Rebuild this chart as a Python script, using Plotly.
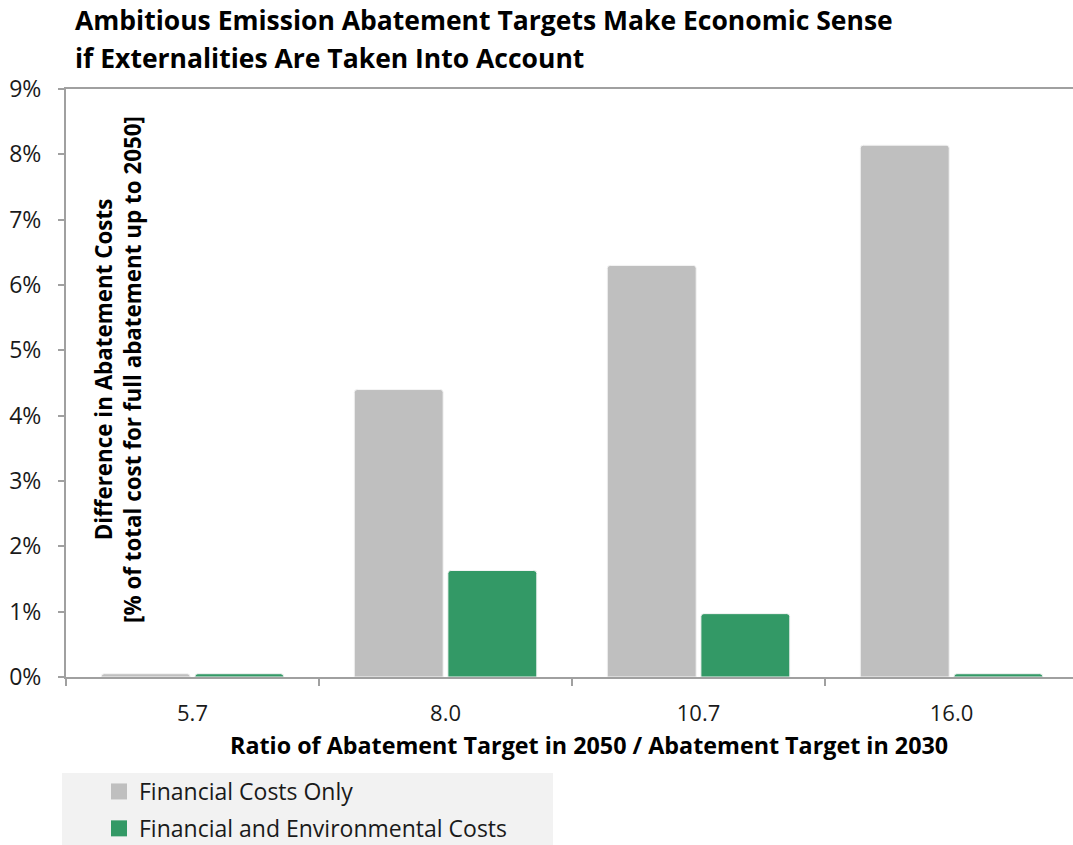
import plotly.graph_objects as go

# Abatement target ratio (2050 / 2030)
ratios = ["5.7", "8.0", "10.7", "16.0"]
# Difference in abatement costs, % of total cost for full abatement up to 2050
financial_only = [0.05, 4.40, 6.30, 8.14]
financial_env = [0.05, 1.63, 0.97, 0.05]
y_ticks = [0, 1, 2, 3, 4, 5, 6, 7, 8, 9]
y_tick_labels = ["0%", "1%", "2%", "3%", "4%", "5%", "6%", "7%", "8%", "9%"]

FONT = "Open Sans"
GRAY = "#bfbfbf"
GREEN = "#339966"
W, H = 1073, 845
L, T, B = 66, 89, 168
PLOT_H = H - T - B


def px_y(py):
    """Pixel row -> paper y for the plot area."""
    return (H - B - py) / PLOT_H


def px_x(px):
    return (px - L) / (W - L)


fig = go.Figure()
fig.add_trace(go.Bar(
    x=ratios, y=financial_only, name="Financial Costs Only",
    marker=dict(color=GRAY, line=dict(color="#f4f4f4", width=1), cornerradius=3),
    showlegend=False,
))
fig.add_trace(go.Bar(
    x=ratios, y=financial_env, name="Financial and Environmental Costs",
    marker=dict(color=GREEN, line=dict(color="#f4f4f4", width=1), cornerradius=3),
    showlegend=False,
))

# Legend entries with larger square swatches
for name, color in [("Financial Costs Only", GRAY), ("Financial and Environmental Costs", GREEN)]:
    fig.add_trace(go.Scatter(
        x=[None], y=[None], mode="markers", name=name, legendgroup=name,
        marker=dict(symbol="square", size=16, color=color),
    ))

title_lines = [
    ("Ambitious Emission Abatement Targets Make Economic Sense", 20),
    ("if Externalities Are Taken Into Account", 58),
]

annotations = [
    dict(
        text=f"<b>{line}</b>", xref="paper", yref="paper", x=px_x(73), y=px_y(py),
        xanchor="left", yanchor="middle", showarrow=False,
        font=dict(size=26.5, color="#000000"),
    )
    for line, py in title_lines
]
annotations += [
    dict(
        text="<b>Ratio of Abatement Target in 2050 / Abatement Target in 2030</b>",
        xref="paper", yref="paper", x=px_x(589), y=px_y(745),
        xanchor="center", yanchor="middle", showarrow=False,
        font=dict(size=23.3, color="#000000"),
    ),
    dict(
        text="<b>Difference in Abatement Costs<br>[% of total cost for full abatement up to 2050]</b>",
        xref="paper", yref="paper", x=px_x(118), y=px_y(370),
        xanchor="center", yanchor="middle", textangle=-90, showarrow=False,
        font=dict(size=22.4, color="#000000"),
    ),
]

fig.update_layout(
    width=W, height=H,
    margin=dict(l=L, r=0, t=T, b=B, autoexpand=False),
    paper_bgcolor="white", plot_bgcolor="white",
    font=dict(family=FONT, color="#1a1a1a", size=20),
    barmode="group", bargap=0.26, bargroupgap=0.05,
    xaxis=dict(
        type="category", range=[-0.5, 3.48], automargin=False,
        showline=True, linecolor="#a0a0a0", linewidth=2, mirror=True,
        ticks="outside", tickson="boundaries", ticklen=7, tickcolor="#a0a0a0", tickwidth=2,
        tickfont=dict(size=22, color="#1a1a1a"), ticklabelstandoff=16,
        showgrid=False, zeroline=False,
    ),
    yaxis=dict(
        range=[0, 9], tickvals=y_ticks, ticktext=y_tick_labels, automargin=False,
        showline=True, linecolor="#a0a0a0", linewidth=2,
        ticks="outside", ticklen=6, tickcolor="#a0a0a0", tickwidth=2,
        tickfont=dict(size=23, color="#1a1a1a"), ticklabelstandoff=12,
        showgrid=False, zeroline=False,
    ),
    legend=dict(
        xref="container", yref="container",
        x=99 / W, xanchor="left", y=1 - 770 / H, yanchor="top",
        bgcolor="rgba(0,0,0,0)", font=dict(size=23, color="#1a1a1a"),
        tracegroupgap=4, itemclick=False,
    ),
    shapes=[dict(
        type="rect", xref="paper", yref="paper", layer="below",
        x0=px_x(62), x1=px_x(553), y0=px_y(773), y1=px_y(845),
        fillcolor="#f2f2f2", line=dict(width=0),
    )],
    annotations=annotations,
)

fig.write_html("out.html")
